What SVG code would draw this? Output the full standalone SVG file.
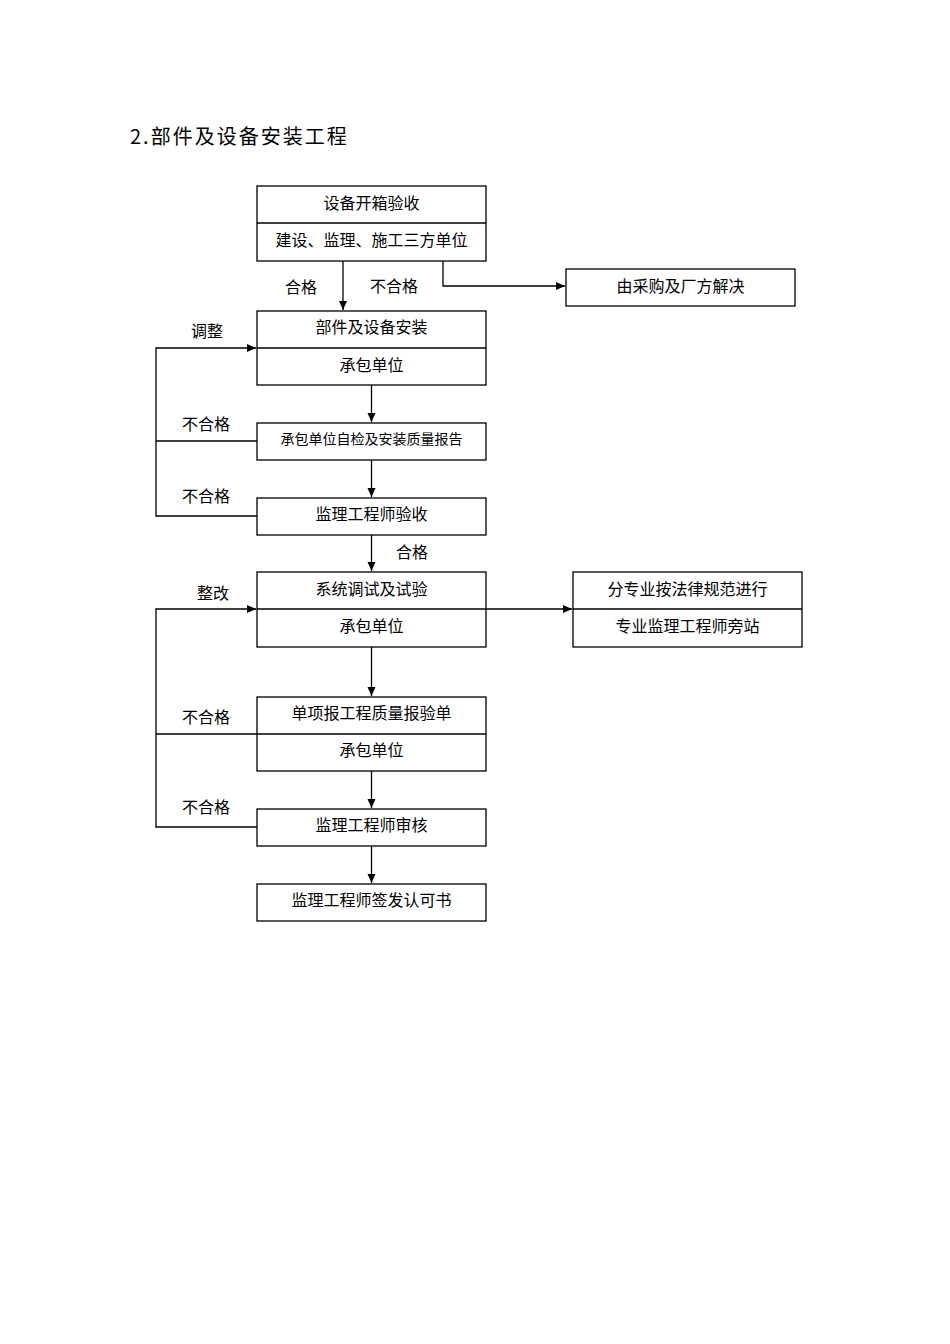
<svg xmlns="http://www.w3.org/2000/svg" width="950" height="1344" viewBox="0 0 950 1344">
<style>
rect{fill:#fff;stroke:#000;stroke-width:1.3}
.d{stroke:#000;stroke-width:1.3}
text{font-family:"Noto Sans CJK SC","Liberation Serif",serif;font-size:16px;fill:#000}
.c{text-anchor:middle}
.e{fill:none;stroke:#000;stroke-width:1.3}
.h{fill:#000;stroke:none}
</style>
<defs><marker id="a" markerWidth="10" markerHeight="10" refX="9" refY="5" orient="auto" markerUnits="userSpaceOnUse"><path class="h" d="M0,1 L9,5 L0,9Z"/></marker></defs>
<rect width="950" height="1344" style="stroke:none"/>
<text x="130" y="144" style="font-size:20px;letter-spacing:2px">2.部件及设备安装工程</text>
<g id="n1"><rect x="257" y="186" width="229" height="75"/><line class="d" x1="257" y1="223" x2="486" y2="223"/><text class="c" x="371.5" y="209">设备开箱验收</text><text class="c" x="371.5" y="246">建设、监理、施工三方单位</text></g>
<g id="n2"><rect x="566" y="269" width="229" height="37"/><text class="c" x="680.5" y="292">由采购及厂方解决</text></g>
<g id="n3"><rect x="257" y="311" width="229" height="74"/><line class="d" x1="257" y1="348" x2="486" y2="348"/><text class="c" x="371.5" y="333">部件及设备安装</text><text class="c" x="371.5" y="371">承包单位</text></g>
<g id="n4"><rect x="257" y="423" width="229" height="37"/><text class="c" x="371.5" y="444" style="font-size:14px">承包单位自检及安装质量报告</text></g>
<g id="n5"><rect x="257" y="498" width="229" height="37"/><text class="c" x="371.5" y="520">监理工程师验收</text></g>
<g id="n6"><rect x="257" y="572" width="229" height="75"/><line class="d" x1="257" y1="609" x2="486" y2="609"/><text class="c" x="371.5" y="595">系统调试及试验</text><text class="c" x="371.5" y="632">承包单位</text></g>
<g id="n7"><rect x="573" y="572" width="229" height="75"/><line class="d" x1="573" y1="609" x2="802" y2="609"/><text class="c" x="687.5" y="595">分专业按法律规范进行</text><text class="c" x="687.5" y="632">专业监理工程师旁站</text></g>
<g id="n8"><rect x="257" y="697" width="229" height="74"/><line class="d" x1="257" y1="734" x2="486" y2="734"/><text class="c" x="371.5" y="719">单项报工程质量报验单</text><text class="c" x="371.5" y="756">承包单位</text></g>
<g id="n9"><rect x="257" y="809" width="229" height="37"/><text class="c" x="371.5" y="831">监理工程师审核</text></g>
<g id="n10"><rect x="257" y="884" width="229" height="37"/><text class="c" x="371.5" y="906">监理工程师签发认可书</text></g>
<g id="edges">
<path class="e" d="M343,261 V310" marker-end="url(#a)"/>
<path class="e" d="M443,261 V286 H565" marker-end="url(#a)"/>
<path class="e" d="M371.5,385 V422" marker-end="url(#a)"/>
<path class="e" d="M371.5,460 V497" marker-end="url(#a)"/>
<path class="e" d="M371.5,535 V571" marker-end="url(#a)"/>
<path class="e" d="M371.5,647 V696" marker-end="url(#a)"/>
<path class="e" d="M371.5,771 V808" marker-end="url(#a)"/>
<path class="e" d="M371.5,846 V883" marker-end="url(#a)"/>
<path class="e" d="M486,609 H572" marker-end="url(#a)"/>
<path class="e" d="M257,441 H156"/>
<path class="e" d="M257,516 H156 V348 H256" marker-end="url(#a)"/>
<path class="e" d="M257,734 H156"/>
<path class="e" d="M257,827 H156 V609 H256" marker-end="url(#a)"/>
<text x="285" y="293">合格</text><text x="370" y="292">不合格</text>
<text x="191" y="337">调整</text>
<text x="182" y="430">不合格</text><text x="182" y="502">不合格</text>
<text x="396" y="558">合格</text>
<text x="197" y="599">整改</text>
<text x="182" y="723">不合格</text><text x="182" y="813">不合格</text>
</g>
</svg>
